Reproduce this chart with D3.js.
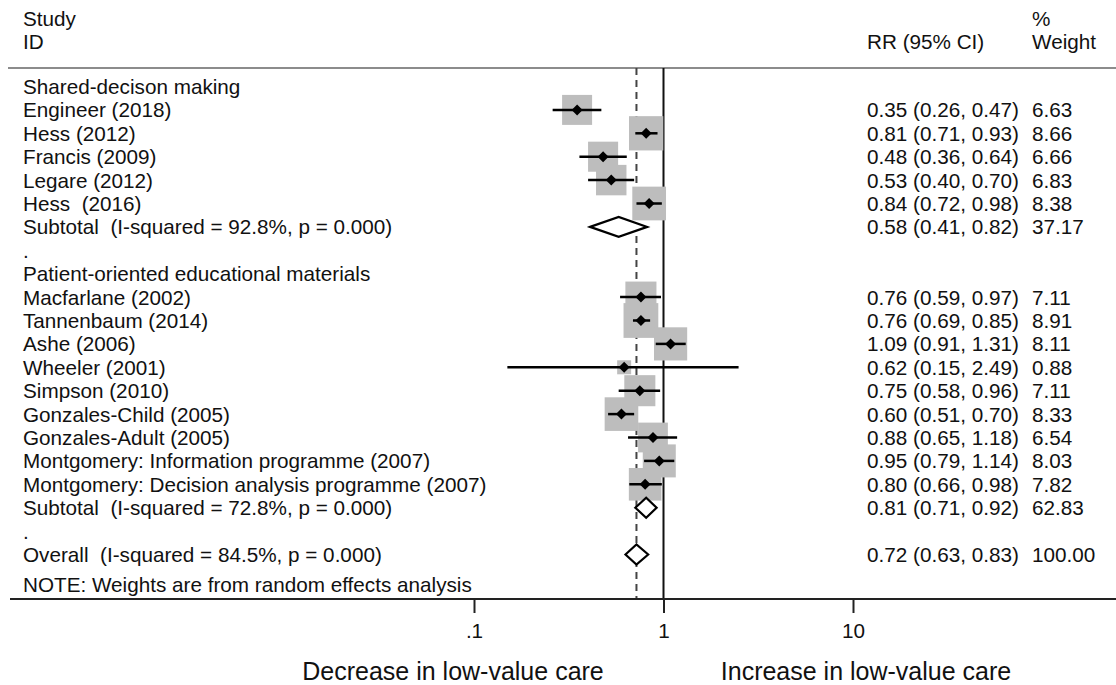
<!DOCTYPE html>
<html>
<head>
<meta charset="utf-8">
<script src="https://cdn.jsdelivr.net/npm/d3@7"></script>
<style>
  body { margin: 0; background: #fff; }
  svg text { font-family: "Liberation Sans", Arial, Helvetica, sans-serif; fill: #111; white-space: pre; }
</style>
</head>
<body>
<svg id="chart" width="1116" height="685"></svg>
<script>
// study data
const groupNames = ["Shared-decison making", "Patient-oriented educational materials"];

const sdmStudies = ["Engineer (2018)", "Hess (2012)", "Francis (2009)", "Legare (2012)", "Hess  (2016)"];
const sdmRR = [0.35, 0.81, 0.48, 0.53, 0.84];
const sdmLo = [0.26, 0.71, 0.36, 0.40, 0.72];
const sdmHi = [0.47, 0.93, 0.64, 0.70, 0.98];
const sdmWeight = [6.63, 8.66, 6.66, 6.83, 8.38];

const poeStudies = ["Macfarlane (2002)", "Tannenbaum (2014)", "Ashe (2006)", "Wheeler (2001)", "Simpson (2010)",
  "Gonzales-Child (2005)", "Gonzales-Adult (2005)", "Montgomery: Information programme (2007)",
  "Montgomery: Decision analysis programme (2007)"];
const poeRR = [0.76, 0.76, 1.09, 0.62, 0.75, 0.60, 0.88, 0.95, 0.80];
const poeLo = [0.59, 0.69, 0.91, 0.15, 0.58, 0.51, 0.65, 0.79, 0.66];
const poeHi = [0.97, 0.85, 1.31, 2.49, 0.96, 0.70, 1.18, 1.14, 0.98];
const poeWeight = [7.11, 8.91, 8.11, 0.88, 7.11, 8.33, 6.54, 8.03, 7.82];

// pooled estimates: [label, rr, lo, hi, weight]
const sdmSubtotal = ["Subtotal  (I-squared = 92.8%, p = 0.000)", 0.58, 0.41, 0.82, 37.17];
const poeSubtotal = ["Subtotal  (I-squared = 72.8%, p = 0.000)", 0.81, 0.71, 0.92, 62.83];
const overall = ["Overall  (I-squared = 84.5%, p = 0.000)", 0.72, 0.63, 0.83, 100.00];

const tickValues = [0.1, 1, 10];
const tickLabels = [".1", "1", "10"];
const noteText = "NOTE: Weights are from random effects analysis";
const leftLabel = "Decrease in low-value care";
const rightLabel = "Increase in low-value care";

// build the row list
let rows = [];
function addGroup(name, studies, rr, lo, hi, wt, sub) {
    rows.push({type: "header", label: name});
    studies.forEach((s, i) => rows.push({type: "study", label: s, rr: rr[i], lo: lo[i], hi: hi[i], w: wt[i]}));
    rows.push({type: "pooled", label: sub[0], rr: sub[1], lo: sub[2], hi: sub[3], w: sub[4]});
    rows.push({type: "dot", label: "."});
}
addGroup(groupNames[0], sdmStudies, sdmRR, sdmLo, sdmHi, sdmWeight, sdmSubtotal);
addGroup(groupNames[1], poeStudies, poeRR, poeLo, poeHi, poeWeight, poeSubtotal);
rows.push({type: "pooled", label: overall[0], rr: overall[1], lo: overall[2], hi: overall[3], w: overall[4]});
rows = rows.map((r, i) => Object.assign({i: i}, r));

const svg = d3.select("#chart");
const fs = 20.7;
const textX = 23, rrX = 867, wX = 1032;
const topY = 68, axisY = 599;

const x = d3.scaleLog().domain([0.1, 10]).range([474, 853]);
const baseline = d3.scaleLinear().domain([0, 1]).range([94, 117.4]);   // row index -> text baseline
const cy = i => baseline(i) - 7.5;

// header
const hdr = [["Study", textX, 26], ["ID", textX, 49], ["RR (95% CI)", rrX, 49], ["%", wX, 26], ["Weight", wX, 49]];
svg.selectAll("text.hdr").data(hdr).join("text")
    .attr("class", "hdr")
    .attr("x", d => d[1]).attr("y", d => d[2])
    .style("font-size", fs + "px")
    .text(d => d[0]);

svg.append("line").attr("x1", 8).attr("x2", 1116).attr("y1", topY).attr("y2", topY)
    .attr("stroke", "#8c8c8c").attr("stroke-width", 2);

// reference lines
svg.append("line")
    .attr("x1", x(overall[1])).attr("x2", x(overall[1]))
    .attr("y1", topY).attr("y2", axisY)
    .attr("stroke", "#444").attr("stroke-width", 2)
    .attr("stroke-dasharray", "7,5");

svg.append("line")
    .attr("x1", x(1)).attr("x2", x(1))
    .attr("y1", topY).attr("y2", axisY)
    .attr("stroke", "#111").attr("stroke-width", 2);

// studies
const studyRows = rows.filter(r => r.type === "study");
const boxSide = w => Math.max(14, 11.65 * Math.sqrt(w));

svg.selectAll("rect.box").data(studyRows).join("rect")
    .attr("class", "box")
    .attr("x", d => x(d.rr) - boxSide(d.w) / 2)
    .attr("y", d => cy(d.i) - boxSide(d.w) / 2)
    .attr("width", d => boxSide(d.w))
    .attr("height", d => boxSide(d.w))
    .attr("fill", "#bdbdbd");

svg.selectAll("line.ci").data(studyRows).join("line")
    .attr("class", "ci")
    .attr("x1", d => x(d.lo)).attr("x2", d => x(d.hi))
    .attr("y1", d => cy(d.i)).attr("y2", d => cy(d.i))
    .attr("stroke", "#000").attr("stroke-width", 2.5);

svg.selectAll("path.pt").data(studyRows).join("path")
    .attr("class", "pt")
    .attr("d", d => {
        let px = x(d.rr), py = cy(d.i), r = 5.5;
        return `M${px - r},${py}L${px},${py - r}L${px + r},${py}L${px},${py + r}Z`;
    })
    .attr("fill", "#000");

// pooled diamonds
const pooledRows = rows.filter(r => r.type === "pooled");
svg.selectAll("path.pooled").data(pooledRows).join("path")
    .attr("class", "pooled")
    .attr("d", d => {
        let py = cy(d.i), h = 10;
        return `M${x(d.lo)},${py}L${x(d.rr)},${py - h}L${x(d.hi)},${py}L${x(d.rr)},${py + h}Z`;
    })
    .attr("fill", "#fff").attr("stroke", "#000").attr("stroke-width", 2.2);

// labels
svg.selectAll("text.lab").data(rows).join("text")
    .attr("class", "lab")
    .attr("x", textX).attr("y", d => baseline(d.i))
    .style("font-size", fs + "px")
    .text(d => d.label);

const numRows = rows.filter(r => r.rr !== undefined);
const f2 = d3.format(".2f");
svg.selectAll("text.rr").data(numRows).join("text")
    .attr("class", "rr")
    .attr("x", rrX).attr("y", d => baseline(d.i))
    .style("font-size", fs + "px")
    .text(d => `${f2(d.rr)} (${f2(d.lo)}, ${f2(d.hi)})`);

svg.selectAll("text.wt").data(numRows).join("text")
    .attr("class", "wt")
    .attr("x", wX).attr("y", d => baseline(d.i))
    .style("font-size", fs + "px")
    .text(d => f2(d.w));

svg.append("text").attr("x", textX).attr("y", 592)
    .style("font-size", fs + "px").text(noteText);

// x axis
svg.append("line").attr("x1", 10).attr("x2", 1116).attr("y1", axisY).attr("y2", axisY)
    .attr("stroke", "#222").attr("stroke-width", 2);

const axis = svg.append("g")
    .attr("transform", `translate(0,${axisY})`)
    .call(d3.axisBottom(x).tickValues(tickValues)
        .tickFormat((d, i) => tickLabels[i]).tickSize(14).tickPadding(10));
axis.select(".domain").remove();
axis.selectAll(".tick line").attr("stroke", "#222").attr("stroke-width", 2);
axis.selectAll(".tick text")
    .style("font-size", fs + "px")
    .style("font-family", "'Liberation Sans', Arial, Helvetica, sans-serif")
    .attr("fill", "#111");

svg.append("text").attr("x", 453).attr("y", 680).attr("text-anchor", "middle")
    .style("font-size", "25px").text(leftLabel);
svg.append("text").attr("x", 866).attr("y", 680).attr("text-anchor", "middle")
    .style("font-size", "25px").text(rightLabel);
</script>
</body>
</html>
